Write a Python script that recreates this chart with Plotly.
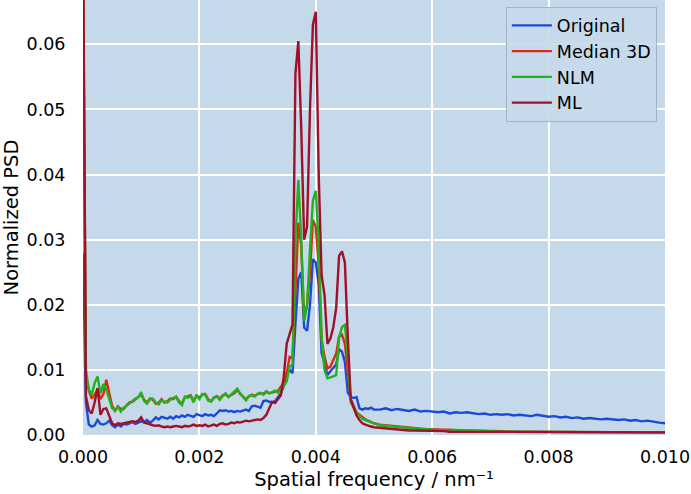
import plotly.graph_objects as go

# Spatial frequency grid (nm^-1): fine steps to 0.005, coarser after
freq_fine = [round(i * 0.00005, 5) for i in range(101)]
freq_tail = [round(0.005 + i * 0.0001, 4) for i in range(1, 51)]
freq = freq_fine + freq_tail

original = [
    0.0280, 0.0050, 0.0016, 0.0013, 0.0015, 0.0023, 0.0017, 0.0016, 0.0018, 0.0022,
    0.0015, 0.0012, 0.0016, 0.0013, 0.0017, 0.0016, 0.0018, 0.0020, 0.0017, 0.0019,
    0.0021, 0.0020, 0.0023, 0.0019, 0.0022, 0.0027, 0.0024, 0.0028, 0.0026, 0.0025,
    0.0028, 0.0025, 0.0029, 0.0027, 0.0030, 0.0028, 0.0031, 0.0030, 0.0028, 0.0032,
    0.0031, 0.0029, 0.0032, 0.0030, 0.0031, 0.0029, 0.0033, 0.0038, 0.0037, 0.0038,
    0.0036, 0.0037, 0.0035, 0.0037, 0.0036, 0.0038, 0.0039, 0.0037, 0.0044, 0.0045,
    0.0043, 0.0042, 0.0052, 0.0053, 0.0051, 0.0050, 0.0052, 0.0058, 0.0064, 0.0075,
    0.0095, 0.0100, 0.0095, 0.0170, 0.0240, 0.0250, 0.0165, 0.0160, 0.0200, 0.0270,
    0.0265, 0.0230, 0.0126, 0.0110, 0.0092, 0.0098, 0.0103, 0.0108, 0.0132, 0.0128,
    0.0112, 0.0065, 0.0058, 0.0057, 0.0058, 0.0041, 0.0039, 0.0041, 0.0040, 0.0042,
    0.0039,
    0.0039, 0.0041, 0.0038, 0.0040, 0.0038, 0.0037, 0.0039, 0.0036, 0.0037, 0.0036,
    0.0035, 0.0036, 0.0033, 0.0035, 0.0034, 0.0035, 0.0033, 0.0032, 0.0033, 0.0031,
    0.0032, 0.0031, 0.0032, 0.0030, 0.0031, 0.0030, 0.0029, 0.0031, 0.0029, 0.0028,
    0.0029, 0.0027, 0.0028, 0.0026, 0.0027, 0.0025, 0.0026, 0.0025, 0.0024, 0.0025,
    0.0024, 0.0023, 0.0024, 0.0022, 0.0023, 0.0021, 0.0022, 0.0020, 0.0019, 0.0018,
]

median3d = [
    0.0750, 0.0092, 0.0068, 0.0056, 0.0062, 0.0070, 0.0055, 0.0063, 0.0085, 0.0062,
    0.0045, 0.0037, 0.0044, 0.0040, 0.0040, 0.0046, 0.0050, 0.0051, 0.0055, 0.0058,
    0.0062, 0.0054, 0.0050, 0.0056, 0.0054, 0.0048, 0.0049, 0.0055, 0.0050, 0.0052,
    0.0056, 0.0055, 0.0059, 0.0052, 0.0048, 0.0058, 0.0059, 0.0061, 0.0052, 0.0060,
    0.0058, 0.0062, 0.0063, 0.0055, 0.0052, 0.0057, 0.0060, 0.0056, 0.0061, 0.0062,
    0.0059, 0.0061, 0.0064, 0.0069, 0.0063, 0.0059, 0.0055, 0.0059, 0.0062, 0.0060,
    0.0063, 0.0064, 0.0063, 0.0067, 0.0064, 0.0065, 0.0067, 0.0068, 0.0074, 0.0080,
    0.0095, 0.0120, 0.0118, 0.0233, 0.0326, 0.0290, 0.0177, 0.0200, 0.0249, 0.0330,
    0.0320, 0.0260, 0.0146, 0.0120, 0.0102, 0.0105, 0.0115, 0.0125, 0.0151, 0.0154,
    0.0140, 0.0095, 0.0055, 0.0045, 0.0035, 0.0031, 0.0027, 0.0024, 0.0022, 0.0020,
    0.0018,
    0.0016, 0.0015, 0.0014, 0.0013, 0.0012, 0.0011, 0.0010, 0.0010, 0.0009, 0.0009,
    0.0008, 0.0008, 0.0008, 0.0007, 0.0007, 0.0007, 0.0007, 0.0006, 0.0006, 0.0006,
    0.0006, 0.0006, 0.0005, 0.0005, 0.0005, 0.0005, 0.0005, 0.0005, 0.0005, 0.0005,
    0.0005, 0.0005, 0.0005, 0.0004, 0.0004, 0.0004, 0.0004, 0.0004, 0.0004, 0.0004,
    0.0004, 0.0004, 0.0004, 0.0004, 0.0004, 0.0004, 0.0004, 0.0004, 0.0004, 0.0004,
]

nlm = [
    0.0700, 0.0100, 0.0070, 0.0062, 0.0080, 0.0090, 0.0064, 0.0078, 0.0070, 0.0055,
    0.0041, 0.0038, 0.0043, 0.0036, 0.0042, 0.0045, 0.0048, 0.0052, 0.0056, 0.0058,
    0.0066, 0.0052, 0.0048, 0.0055, 0.0056, 0.0050, 0.0047, 0.0053, 0.0051, 0.0050,
    0.0054, 0.0057, 0.0058, 0.0050, 0.0046, 0.0059, 0.0057, 0.0060, 0.0050, 0.0062,
    0.0055, 0.0063, 0.0062, 0.0053, 0.0051, 0.0058, 0.0059, 0.0054, 0.0060, 0.0064,
    0.0058, 0.0062, 0.0066, 0.0071, 0.0064, 0.0058, 0.0053, 0.0060, 0.0061, 0.0059,
    0.0063, 0.0065, 0.0062, 0.0066, 0.0064, 0.0066, 0.0068, 0.0065, 0.0070, 0.0075,
    0.0082, 0.0105, 0.0108, 0.0300, 0.0392, 0.0300, 0.0175, 0.0200, 0.0284, 0.0360,
    0.0375, 0.0290, 0.0150, 0.0100, 0.0087, 0.0088, 0.0090, 0.0092, 0.0150, 0.0166,
    0.0169, 0.0120, 0.0050, 0.0042, 0.0034, 0.0030, 0.0025, 0.0023, 0.0021, 0.0019,
    0.0018,
    0.0015, 0.0014, 0.0013, 0.0012, 0.0011, 0.0010, 0.0010, 0.0009, 0.0009, 0.0008,
    0.0008, 0.0007, 0.0007, 0.0007, 0.0007, 0.0006, 0.0006, 0.0006, 0.0006, 0.0006,
    0.0005, 0.0005, 0.0005, 0.0005, 0.0005, 0.0005, 0.0005, 0.0005, 0.0005, 0.0005,
    0.0004, 0.0004, 0.0004, 0.0004, 0.0004, 0.0004, 0.0004, 0.0004, 0.0004, 0.0004,
    0.0004, 0.0004, 0.0004, 0.0004, 0.0004, 0.0004, 0.0004, 0.0004, 0.0004, 0.0004,
]

ml = [
    0.0800, 0.0060, 0.0038, 0.0033, 0.0050, 0.0072, 0.0031, 0.0040, 0.0041, 0.0030,
    0.0018, 0.0015, 0.0018, 0.0017, 0.0018, 0.0019, 0.0020, 0.0021, 0.0020, 0.0022,
    0.0027, 0.0019, 0.0018, 0.0016, 0.0015, 0.0014, 0.0015, 0.0013, 0.0012, 0.0013,
    0.0012, 0.0013, 0.0014, 0.0013, 0.0012, 0.0014, 0.0013, 0.0014, 0.0016, 0.0014,
    0.0015, 0.0014, 0.0016, 0.0013, 0.0015, 0.0016, 0.0014, 0.0017, 0.0018, 0.0016,
    0.0017, 0.0019, 0.0018, 0.0020, 0.0019, 0.0021, 0.0022, 0.0021, 0.0022, 0.0023,
    0.0024, 0.0023, 0.0026, 0.0031, 0.0040, 0.0051, 0.0049, 0.0055, 0.0061, 0.0090,
    0.0140, 0.0155, 0.0170, 0.0555, 0.0605, 0.0470, 0.0300, 0.0320, 0.0500, 0.0630,
    0.0650, 0.0400, 0.0245, 0.0215, 0.0140, 0.0148, 0.0165, 0.0195, 0.0275, 0.0282,
    0.0265, 0.0150, 0.0055, 0.0042, 0.0030, 0.0023, 0.0018, 0.0016, 0.0014, 0.0013,
    0.0012,
    0.0011, 0.0010, 0.0009, 0.0008, 0.0008, 0.0007, 0.0007, 0.0007, 0.0006, 0.0006,
    0.0006, 0.0006, 0.0005, 0.0005, 0.0005, 0.0005, 0.0005, 0.0005, 0.0005, 0.0004,
    0.0004, 0.0004, 0.0004, 0.0004, 0.0004, 0.0004, 0.0004, 0.0004, 0.0004, 0.0004,
    0.0004, 0.0004, 0.0004, 0.0004, 0.0004, 0.0004, 0.0004, 0.0004, 0.0004, 0.0004,
    0.0004, 0.0004, 0.0004, 0.0004, 0.0004, 0.0004, 0.0004, 0.0004, 0.0004, 0.0004,
]

series = [
    ("Original", original, "#1a4ad8"),
    ("Median 3D", median3d, "#d92d12"),
    ("NLM", nlm, "#1fb41f"),
    ("ML", ml, "#a01028"),
]

fig = go.Figure()
for name, vals, color in series:
    fig.add_trace(go.Scatter(x=freq, y=vals, mode="lines", name=name,
                             line=dict(color=color, width=2.4)))

font_family = "DejaVu Sans"
fig.update_layout(
    width=691, height=494,
    margin=dict(l=83, r=26, t=0, b=59, autoexpand=False),
    paper_bgcolor="white",
    plot_bgcolor="#c5d9eb",
    font=dict(family=font_family, size=17.5, color="black"),
    legend=dict(
        x=0.986, y=0.985, xanchor="right", yanchor="top",
        bgcolor="rgba(197,217,235,0.9)", bordercolor="#9fb4c4", borderwidth=1,
        font=dict(size=17.5), tracegroupgap=0, itemwidth=40,
    ),
    showlegend=True,
)
fig.update_xaxes(
    range=[0, 0.010], dtick=0.002, tickformat=".3f", automargin=False,
    showgrid=True, gridcolor="white", gridwidth=1.5, zeroline=False,
    showline=False, ticks="outside", ticklen=6, tickcolor="rgba(0,0,0,0)",
    title=dict(text="Spatial frequency / nm\u207b\u00b9", font=dict(size=19.5), standoff=6),
    tickfont=dict(size=17.5),
)
fig.update_yaxes(
    range=[0, 0.0668], dtick=0.01, tickformat=".2f", automargin=False,
    showgrid=True, gridcolor="white", gridwidth=1.5, zeroline=False,
    showline=False, ticks="outside", ticklen=13, tickcolor="rgba(0,0,0,0)",
    title=dict(text="Normalized PSD", font=dict(size=19.5), standoff=6),
    tickfont=dict(size=17.5),
)

fig.write_html(
    "out.html",
    config={"displayModeBar": False},
    post_script="document.body.style.margin='0';document.body.style.overflow='hidden';",
)
